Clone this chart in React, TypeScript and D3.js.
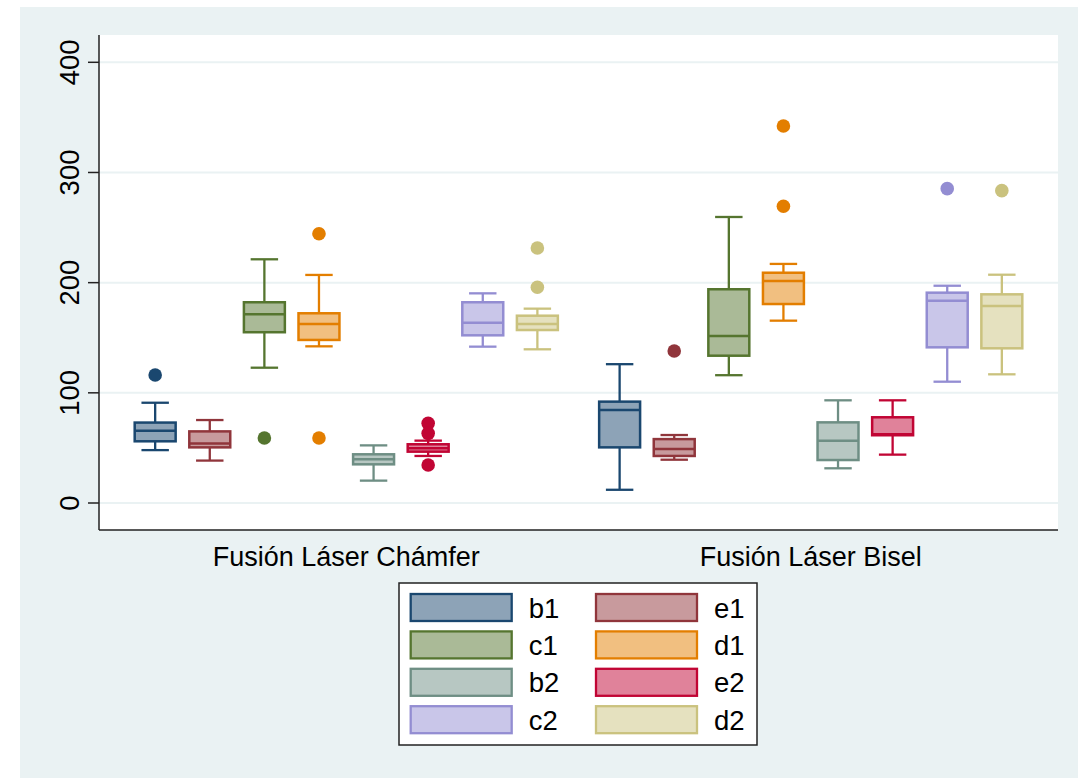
import React from "react";
import * as d3 from "d3";

// Categories and series
const groups = ["Fusión Láser Chámfer", "Fusión Láser Bisel"];
const seriesNames = ["b1", "e1", "c1", "d1", "b2", "e2", "c2", "d2"];
const lineColors = ["#1a476f", "#90353b", "#55752f", "#e37e00", "#6e8e84", "#c10534", "#938dd2", "#cac27e"];

// Box summaries per group: [lower whisker, Q1, median, Q3, upper whisker]
const b1Stats = [[48, 56, 65.5, 73, 91], [12, 50.5, 84.5, 92, 126]];
const e1Stats = [[38.5, 50.5, 54, 65, 75.3], [39.3, 42.7, 49, 58, 61.7]];
const c1Stats = [[122.8, 155, 171.3, 182.2, 221.2], [116, 133.7, 151.6, 194, 259.6]];
const d1Stats = [[142.2, 148, 162.5, 172.2, 207], [165.5, 180.6, 201.5, 209, 217]];
const b2Stats = [[20.3, 35.1, 39.7, 44.2, 52.3], [31.5, 39, 56.6, 73.2, 93.2]];
const e2Stats = [[42.7, 46.6, 49.6, 53.3, 56.6], [43.9, 61.5, 62.5, 77.8, 93.2]];
const c2Stats = [[141.9, 152.2, 163.7, 182.2, 190.3], [110.1, 141.3, 183.6, 190.9, 197.2]];
const d2Stats = [[139.5, 157, 162.5, 170, 176.4], [116.8, 140.4, 178.8, 189.4, 207.2]];

// Outside values per group
const b1Outliers = [[116.2], []];
const e1Outliers = [[], [138]];
const c1Outliers = [[59], []];
const d1Outliers = [[244.4, 59], [342.2, 269.3]];
const b2Outliers = [[], []];
const e2Outliers = [[72.3, 63.2, 34.5], []];
const c2Outliers = [[], [285.3]];
const d2Outliers = [[231.5, 195.8], [283.5]];

const yTicks = [0, 100, 200, 300, 400];

const allStats = [b1Stats, e1Stats, c1Stats, d1Stats, b2Stats, e2Stats, c2Stats, d2Stats];
const allOutliers = [b1Outliers, e1Outliers, c1Outliers, d1Outliers, b2Outliers, e2Outliers, c2Outliers, d2Outliers];

const W = 1078;
const H = 778;
const plot = { left: 99, right: 1058, top: 35, bottom: 530 };
const font = "'Liberation Sans', Arial, Helvetica, sans-serif";

export default function App() {
  const y = d3.scaleLinear().domain([0, 400]).range([503, 62.3]);
  const xGroup = d3.scalePoint<string>().domain(groups).range([plot.left, plot.right]).padding(0.5324);
  const xInner = d3.scalePoint<string>().domain(seriesNames).range([-191.1, 191.1]);
  const boxW = xInner.step() * 0.75;
  const capW = boxW * 0.67;
  const fillOf = (c: string) => d3.interpolateRgb(c, "#ffffff")(0.5);

  const boxes: React.ReactNode[] = [];
  groups.forEach((g, gi) => {
    seriesNames.forEach((s, si) => {
      const [lo, q1, med, q3, hi] = allStats[si][gi];
      const cx = (xGroup(g) as number) + (xInner(s) as number);
      const col = lineColors[si];
      const key = `${gi}-${si}`;
      boxes.push(
        <g key={key}>
          <line x1={cx} x2={cx} y1={y(hi)} y2={y(q3)} stroke={col} strokeWidth={2.3} />
          <line x1={cx} x2={cx} y1={y(q1)} y2={y(lo)} stroke={col} strokeWidth={2.3} />
          <line x1={cx - capW / 2} x2={cx + capW / 2} y1={y(hi)} y2={y(hi)} stroke={col} strokeWidth={2.3} />
          <line x1={cx - capW / 2} x2={cx + capW / 2} y1={y(lo)} y2={y(lo)} stroke={col} strokeWidth={2.3} />
          <rect
            x={cx - boxW / 2}
            y={y(q3)}
            width={boxW}
            height={y(q1) - y(q3)}
            fill={fillOf(col)}
            stroke={col}
            strokeWidth={2.5}
          />
          <line x1={cx - boxW / 2} x2={cx + boxW / 2} y1={y(med)} y2={y(med)} stroke={col} strokeWidth={2.5} />
          {allOutliers[si][gi].map((v, oi) => (
            <circle key={oi} cx={cx} cy={y(v)} r={6.8} fill={col} />
          ))}
        </g>
      );
    });
  });

  const legend = { x: 399, y: 583, w: 358, h: 162 };
  const keyW = 101;
  const keyH = 27;
  const rowPitch = 37.4;
  const colX = [410.7, 596];

  return (
    <svg
      width={W}
      height={H}
      style={{ position: "absolute", left: 0, top: 0, display: "block", background: "#ffffff" }}
      fontFamily={font}
    >
      <rect x={20} y={7} width={W - 20} height={H - 7} fill="#eaf2f3" />
      <rect x={plot.left} y={plot.top} width={plot.right - plot.left} height={plot.bottom - plot.top} fill="#ffffff" />

      {/* grid lines */}
      {yTicks.map((t) => (
        <line key={t} x1={plot.left} x2={plot.right} y1={y(t)} y2={y(t)} stroke="#eaf2f3" strokeWidth={2} />
      ))}

      {boxes}

      {/* axes */}
      <line x1={plot.left} x2={plot.left} y1={plot.top} y2={plot.bottom} stroke="#222" strokeWidth={1.5} />
      <line x1={plot.left} x2={plot.right} y1={plot.bottom} y2={plot.bottom} stroke="#222" strokeWidth={1.5} />
      {yTicks.map((t) => (
        <g key={t}>
          <line x1={88} x2={plot.left} y1={y(t)} y2={y(t)} stroke="#222" strokeWidth={1.5} />
          <text
            transform={`translate(79,${y(t)}) rotate(-90)`}
            textAnchor="middle"
            fontSize={27.5}
            fill="#000"
          >
            {t}
          </text>
        </g>
      ))}

      {groups.map((g) => (
        <text key={g} x={xGroup(g)} y={566} textAnchor="middle" fontSize={27} fill="#000">
          {g}
        </text>
      ))}

      {/* legend */}
      <rect x={legend.x} y={legend.y} width={legend.w} height={legend.h} fill="#ffffff" stroke="#222" strokeWidth={1.5} />
      {seriesNames.map((s, i) => {
        const row = Math.floor(i / 2);
        const col = i % 2;
        const ky = 594 + row * rowPitch;
        return (
          <g key={s}>
            <rect
              x={colX[col]}
              y={ky}
              width={keyW}
              height={keyH}
              fill={fillOf(lineColors[i])}
              stroke={lineColors[i]}
              strokeWidth={2.3}
            />
            <text x={colX[col] + keyW + 17} y={ky + keyH / 2 + 10} fontSize={27.5} fill="#000">
              {s}
            </text>
          </g>
        );
      })}
    </svg>
  );
}
